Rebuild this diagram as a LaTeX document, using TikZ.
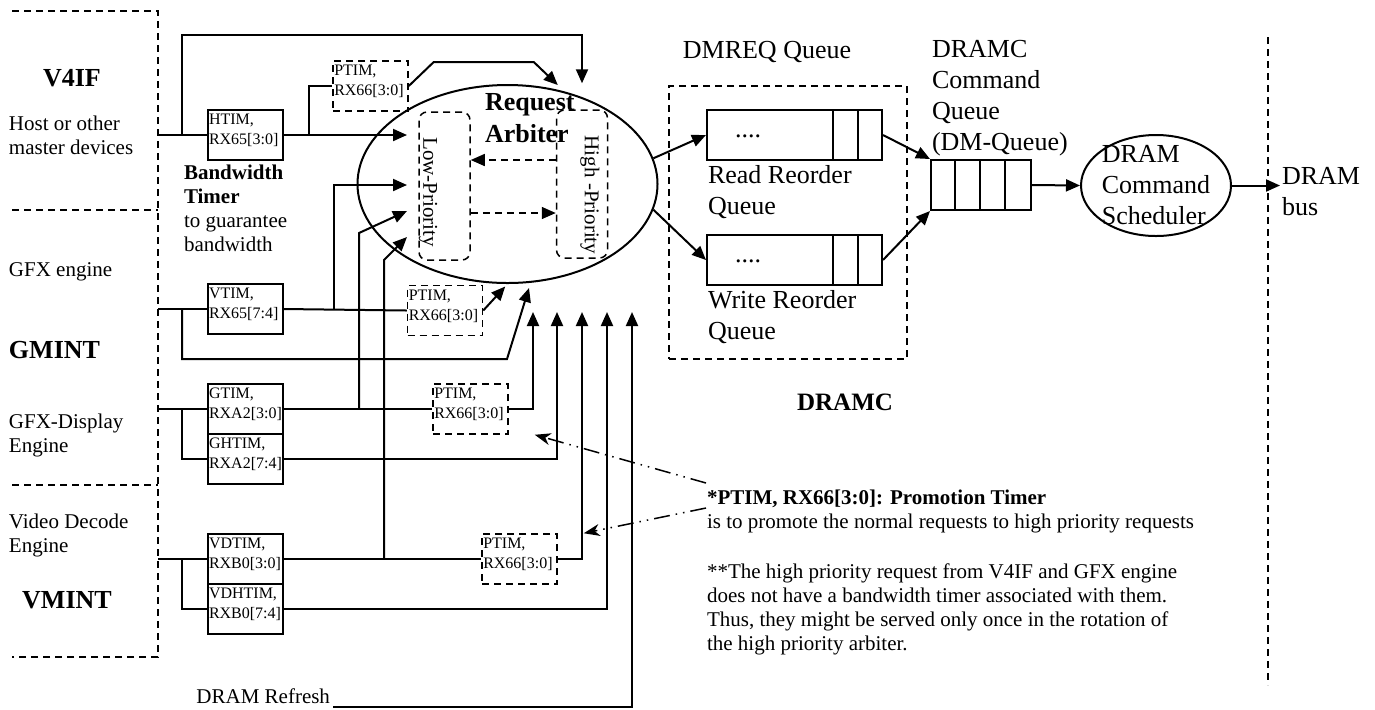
\documentclass[tikz,border=0pt]{standalone}
\usepackage{fontspec}
\setmainfont{Liberation Serif}
\usetikzlibrary{arrows.meta,shapes.geometric}

\begin{document}
\begin{tikzpicture}[x=0.5pt, y=-0.5pt, line width=1pt,
        >={Triangle[length=7pt,width=6pt]},
        every node/.style={font=\fontsize{10.5}{12}\selectfont, inner sep=1pt},
        big/.style={font=\fontsize{13}{15.5}\selectfont},
        hd/.style={font=\fontsize{13}{16}\selectfont\bfseries},
        region/.style={line width=0.75pt, dash pattern=on 3.5pt off 2.5pt},
        timer/.style={draw, minimum width=37.5pt, minimum height=25pt, inner sep=0pt},
        ptim/.style={timer, region},
        tmr/.style={anchor=north west, inner xsep=0.5pt, inner ysep=2pt, align=left,
            font=\fontsize{8}{10}\selectfont},
        prio/.style={draw, region, rounded corners=4pt, minimum width=25.5pt, minimum height=74pt},
        promo/.style={-{Stealth[length=8pt,width=6pt,inset=2.5pt]}, line width=0.75pt,
            dash pattern=on 8pt off 3pt on 0.75pt off 3pt on 0.75pt off 3pt}]
    \useasboundingbox (0,0) rectangle (1375,709);

    % master side
    \draw[region] (12,11) -- (158,11) -- (158,657) -- (12,657);
    \draw[region] (12,210) -- (158,210);
    \draw[region] (12,485) -- (158,485);
    \draw[region] (1268,37) -- (1268,685);
    \coordinate (bnd) at (158,11);

    \node[hd] (v4if) at (72,78) {V4IF};
    \node[align=left, anchor=west] (host) at (6,135) {Host or other\\master devices};
    \node[align=left, anchor=west] (bwt) at (181,208.5)
        {\textbf{Bandwidth}\\\textbf{Timer}\\to guarantee\\bandwidth};
    \node[anchor=west] (gfx) at (6,272) {GFX engine};
    \node[hd, anchor=west] (gmint) at (6,350) {GMINT};
    \node[align=left, anchor=west] (gfxd) at (6,435) {GFX-Display\\Engine};
    \node[align=left, anchor=west] (vde) at (6,535) {Video Decode\\Engine};
    \node[hd] (vmint) at (67,600) {VMINT};
    \node[anchor=south east] (refresh) at (333,707) {DRAM Refresh};

    % timers
    \foreach \n/\y/\a/\b in {htim/135/HTIM/RX65[3:0], vtim/309/VTIM/RX65[7:4],
            gtim/409/GTIM/RXA2[3:0], ghtim/459/GHTIM/RXA2[7:4],
            vdtim/559/VDTIM/RXB0[3:0], vdhtim/609/VDHTIM/RXB0[7:4]}
        \node[timer, label={[tmr]north west:{\a,\\\b}}] (\n) at (245.5,\y) {};
    \foreach \n/\x/\y in {ptima/370.5/86, ptimb/445/310.5, ptimc/470.5/409, ptimd/519.5/559}
        \node[ptim, label={[tmr]north west:{PTIM,\\RX66[3:0]}}] (\n) at (\x,\y) {};

    % request arbiter
    \node[draw, ellipse, minimum width=150pt, minimum height=99pt] (arb) at (507.5,184) {};
    \node[prio] (lowp) at (444.5,186) {};
    \node[prio] (highp) at (582,184) {};
    \node[hd, align=left, anchor=west] (arbname) at (482,118) {Request\\Arbiter};
    \node[rotate=-90] (lowtxt) at (428,192) {Low-Priority};
    \node[rotate=-90] (hightxt) at (590,195) {High -Priority};
    \coordinate (pr1) at ([yshift=12pt]highp.west);
    \coordinate (pr2) at ([yshift=-13.5pt]lowp.east);
    \draw[->, region] (pr1) -- (pr1 -| lowp.east);
    \draw[->, region] (pr2) -- (pr2 -| highp.west);

    \foreach \n/\y in {1/135, 2/185, 3/211, 4/237}
        \coordinate (in\n) at (407,\y);
    \foreach \n/\x in {1/533, 2/557, 3/582, 4/607, 5/632}
        \coordinate (up\n) at (\x,312);
    \coordinate (hin) at ([yshift=13pt]highp.north);

    % V4IF wires
    \draw (htim.west) -- (htim.west -| bnd);
    \draw[->] ([xshift=-12.5pt]htim.west) -- ++(0,-100) -| (hin);
    \draw[->] (htim.east) -- (in1);
    \draw ([xshift=12.5pt]htim.east) |- (ptima.west);
    \draw[->] (ptima.east) -- ++(25,-24) -- ++(100,0) -- ++(24,23);

    % GMINT wires
    \draw (vtim.west) -- (vtim.west -| bnd);
    \draw[->] ([xshift=-12.5pt]vtim.west) -- ++(0,50) -- ++(325,0) -- ++(22,-71);
    \draw (vtim.east) -- (ptimb.west);
    \draw[->] ([xshift=25pt]vtim.east) |- (in2);
    \draw[->] (ptimb.east) -- ++(22,-24);
    \draw (gtim.west) -- (gtim.west -| bnd);
    \draw ([xshift=-12.5pt]gtim.west) |- (ghtim.west);
    \draw (gtim.east) -- (ptimc.west);
    \draw[->] ([xshift=37.5pt]gtim.east) -- ++(0,-176) -- (in3);
    \draw[->] (ptimc.east) -| (up1);
    \draw[->] (ghtim.east) -| (up2);

    % VMINT wires
    \draw (vdtim.west) -- (vdtim.west -| bnd);
    \draw ([xshift=-12.5pt]vdtim.west) |- (vdhtim.west);
    \draw (vdtim.east) -- (ptimd.west);
    \draw[->] ([xshift=50pt]vdtim.east) -- ++(0,-299) -- (in4);
    \draw[->] (ptimd.east) -| (up3);
    \draw[->] (vdhtim.east) -| (up4);
    \draw[->] (refresh.south east) -| (up5);

    % DRAMC queues
    \node[draw, region, minimum width=119pt, minimum height=136.5pt] (dmreq) at (788,222.5) {};
    \node[big] (dmreqlbl) at (767,52) {DMREQ Queue};
    \node[draw, minimum width=87.5pt, minimum height=25pt] (rdq) at (794.5,135) {};
    \node[draw, minimum width=87.5pt, minimum height=25pt] (wrq) at (794.5,260) {};
    \foreach \q in {rdq, wrq} {
        \foreach \d in {12.5pt, 25pt}
            \draw ([xshift=-\d]\q.north east) -- ([xshift=-\d]\q.south east);
        \node[big, anchor=base west] (\q dots) at ([xshift=13pt, yshift=-1pt]\q.west) {....};
    }
    \node[big, align=left, anchor=west] (rdtxt) at (705,192.5) {Read Reorder\\Queue};
    \node[big, align=left, anchor=west] (wrtxt) at (705,317) {Write Reorder\\Queue};
    \node[font=\fontsize{12.5}{15}\selectfont\bfseries] (dramc) at (845,402) {DRAMC};
    \draw[->] (arb.10) -- (rdq.west);
    \draw[->] (arb.-10) -- (wrq.west);

    \node[draw, minimum width=50pt, minimum height=25pt] (dmq) at (981,185) {};
    \foreach \d in {12.5pt, 25pt, 37.5pt}
        \draw ([xshift=\d]dmq.north west) -- ([xshift=\d]dmq.south west);
    \node[big, align=left, anchor=west] (dmqtxt) at (929,98) {DRAMC\\Command\\Queue\\(DM-Queue)};
    \draw[->] (rdq.east) -- (dmq.north west);
    \draw[->] (wrq.east) -- (dmq.south west);

    \node[draw, ellipse, minimum width=75pt, minimum height=50.5pt,
        label={[big, align=left]center:{DRAM\\Command\\Scheduler}}] (sched) at (1156,185.5) {};
    \draw[->] (dmq.east) -- (sched.west);
    \node[big, align=left, anchor=west, inner xsep=0.5pt] (bus) at (1280,191.5) {DRAM\\bus};
    \draw[->] (sched.east) -- (bus.west |- sched.east);

    % notes
    \node[align=left, anchor=west] (note) at (704,572)
        {\textbf{*PTIM, RX66[3:0]: Promotion Timer}\\is to promote the normal requests to high priority requests\\[13pt]**The high priority request from V4IF and GFX engine\\does not have a bandwidth timer associated with them.\\Thus, they might be served only once in the rotation of\\the high priority arbiter.};
    \coordinate (n1) at (706,483);
    \coordinate (n2) at (706,508);
    \draw[promo] (n1) -- ([xshift=13pt]ptimc.south east);
    \draw[promo] (n2) -- ([xshift=13pt]ptimd.north east);
\end{tikzpicture}
\end{document}
